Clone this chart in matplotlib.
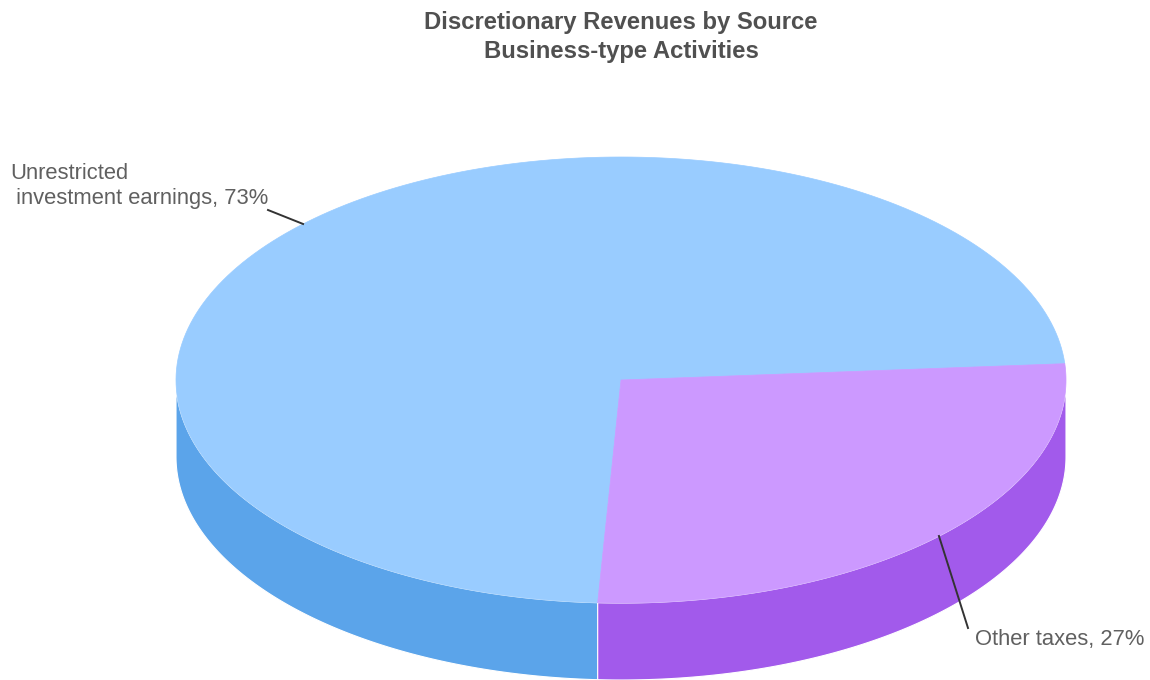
import numpy as np
import matplotlib.pyplot as plt
from matplotlib.patches import Polygon

# Discretionary revenue shares, business-type activities
labels = ["Unrestricted\n investment earnings", "Other taxes"]
shares = [73, 27]
top_colors = ["#99ccff", "#cc99ff"]
side_colors = ["#5ba4ea", "#a25aeb"]

# pie geometry in pixel units (y grows downward)
cx, cy, rx, ry, depth = 621, 380, 445, 223, 77
start_angle = 93.0  # screen degrees, clockwise

# where each connector ends and where its text sits
connector_ends = [(268, 210), (968, 628)]
text_pos = [(10, 186, "left"), (975, 640, "left")]


def rim(t_deg, dy=0.0):
    t = np.radians(t_deg)
    return cx + rx * np.cos(t), cy + ry * np.sin(t) + dy


def arc(a0, a1, dy=0.0, n=200):
    ts = np.linspace(a0, a1, n)
    return [rim(t, dy) for t in ts]


fig = plt.figure(figsize=(11.5, 6.8), dpi=100)
ax = fig.add_axes([0, 0, 1, 1])
ax.set_xlim(0, 1150)
ax.set_ylim(680, 0)
ax.axis("off")

total = float(sum(shares))
bounds = []
a = start_angle
for s in shares:
    span = 360.0 * s / total
    bounds.append((a, a + span))
    a += span

# outer walls: only the front half (0..180 screen degrees) shows
for (a0, a1), col in zip(bounds, side_colors):
    for k in (-1, 0, 1, 2):
        lo = max(a0, k * 360)
        hi = min(a1, k * 360 + 180)
        if lo < hi:
            pts = arc(lo, hi) + arc(hi, lo, depth)
            ax.add_patch(Polygon(pts, closed=True, facecolor=col,
                                 edgecolor="white", linewidth=0.8, zorder=1))

# top faces
for (a0, a1), col in zip(bounds, top_colors):
    pts = [(cx, cy)] + arc(a0, a1)
    ax.add_patch(Polygon(pts, closed=True, facecolor=col,
                         edgecolor=col, linewidth=0.5, zorder=2))

# data labels with connectors
for (a0, a1), lab, s, end, (tx, ty, ha) in zip(bounds, labels, shares,
                                              connector_ends, text_pos):
    mid = (a0 + a1) / 2.0
    px, py = rim(mid)
    ax.plot([px, end[0]], [py, end[1]], color="#333333", linewidth=1.4,
            zorder=3)
    ax.text(tx, ty, f"{lab}, {s}%", ha=ha, va="center",
            fontsize=15.8, color="#606060", family="Liberation Sans",
            linespacing=1.2, zorder=4)

ax.text(621, 37, "Discretionary Revenues by Source\nBusiness-type Activities",
        ha="center", va="center", fontsize=17.2, fontweight="bold",
        color="#505050", family="Liberation Sans", linespacing=1.35)

fig.savefig("out.png", dpi=100)
